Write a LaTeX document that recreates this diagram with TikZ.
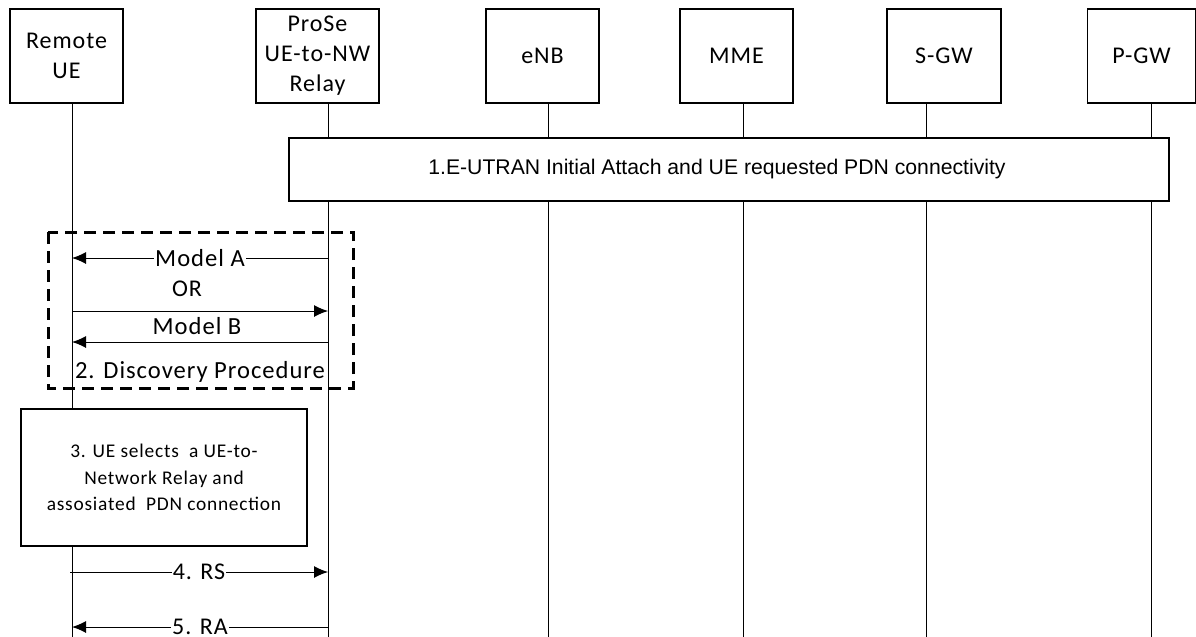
\documentclass[tikz,border=0pt]{standalone}
\usepackage{fontspec}
\setmainfont{Carlito}[LetterSpace=4]
\newfontfamily\arialfont{Liberation Sans}
\usetikzlibrary{arrows.meta,calc}
\usepackage{tkz-euclide}
\definecolor{LineClr}{rgb}{0,0,0}
\definecolor{BoxClr}{rgb}{1,1,1}

\tikzset{
  entity/.style={draw=LineClr,line width=0.65pt,fill=BoxClr,minimum width=56.5pt,
    minimum height=47pt,inner sep=0pt,align=center,font=\fontsize{12}{15}\selectfont},
  lifeline/.style={draw=LineClr,line width=0.5pt},
  msg/.style={draw=LineClr,line width=0.5pt,-{Latex[length=7pt,width=6pt]}},
  msglabel/.style={fill=BoxClr,inner sep=0.5pt,font=\fontsize{12.3}{14}\selectfont},
  steplabel/.style={fill=BoxClr,inner sep=0.5pt,font=\fontsize{12}{13}\selectfont},
  procbox/.style={draw=LineClr,line width=0.65pt,fill=BoxClr}
}

\begin{document}
\begin{tikzpicture}[x=0.5pt,y=-0.5pt]
\useasboundingbox (0,0) rectangle (1196,637);

\node[entity] (RUE) at (66.5,56) {Remote\\UE};
\node[entity,minimum width=61.5pt] (Relay) at (317.5,56) {ProSe\\UE-to-NW\\Relay};
\node[entity] (eNB) at (542.5,56) {eNB};
\node[entity] (MME) at (736.5,56) {MME};
\node[entity,minimum width=57pt] (SGW) at (944,56) {S-GW};
\node[entity,minimum width=54pt] (PGW) at (1141.5,56) {P-GW};

\foreach \nm/\lx in {RUE/72,Relay/328,eNB/548,MME/743,SGW/926,PGW/1151}{
  \coordinate (\nm end) at (\lx,637);
  \draw[lifeline] (\nm.south -| \nm end) -- (\nm end);
}

\tkzDefPoints{289/138/P1,1169/201/P2,48/232/D1,353/388/D2,21/409/S1,307/546/S2}
\tkzDefPoints{328/258/A1,72/258/A2,72/311/B1,328/311/B2,328/342/B3,72/342/B4}
\tkzDefPoints{70/572/R1,328/572/R2,328/627/R3,72/627/R4}

\draw[procbox] (P1) rectangle (P2);
\node[font=\arialfont\fontsize{10.6}{12}\selectfont] (attach) at (717,169)
  {1.E-UTRAN Initial Attach and UE requested PDN connectivity};

\draw[LineClr,line width=1.5pt,dash pattern=on 6pt off 3.5pt] (D1) rectangle (D2);
\draw[msg] (A1) -- node[msglabel] {Model A} (A2);
\node[steplabel] (or) at (187,289) {OR};
\draw[msg] (B1) -- (B2);
\draw[msg] (B3) -- (B4);
\node[msglabel] (modelB) at (197,326) {Model B};
\node[msglabel] (disc) at (200,372) {2. Discovery Procedure};

\node[procbox,minimum width=143pt,minimum height=68.5pt,align=center,
  font=\fontsize{9.7}{13.2}\selectfont] (select) at (164,477.5)
  {3. UE selects\ \ a UE-to-\\Network Relay and\\assosiated\ \ PDN connection};

\draw[msg] (R1) -- node[steplabel] {4. RS} (R2);
\draw[msg] (R3) -- node[steplabel] {5. RA} (R4);

\end{tikzpicture}
\end{document}
